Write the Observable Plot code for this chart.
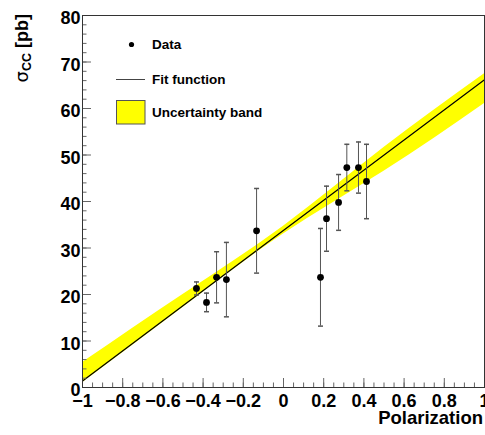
<!DOCTYPE html>
<html>
<head>
<meta charset="utf-8">
<script src="https://cdn.jsdelivr.net/npm/d3@7"></script>
<script src="https://cdn.jsdelivr.net/npm/@observablehq/plot@0.6"></script>
<style>
  html, body { margin: 0; padding: 0; background: #fff; }
  #chart { position: relative; width: 485px; height: 435px; }
</style>
</head>
<body>
<div id="chart"></div>
<script>
// Data points (Polarization, cross section, error)
const dataX   = [-0.433, -0.383, -0.333, -0.284, -0.134, 0.184, 0.214, 0.274, 0.315, 0.373, 0.413];
const dataY   = [21.3, 18.3, 23.7, 23.2, 33.7, 23.7, 36.3, 39.8, 47.3, 47.3, 44.3];
const dataErr = [1.4, 2.0, 5.5, 8.0, 9.1, 10.5, 7.0, 6.0, 5.0, 5.5, 8.0];

// Fit function end points
const fitX = [-1, 1];
const fitY = [1.4, 66.2];

// Uncertainty band
const bandX    = [-1, -0.5, 0, 0.5, 1];
const bandLow  = [1.0, 17.2, 33.0, 46.5, 61.1];
const bandHigh = [5.35, 20.0, 34.7, 51.6, 67.5];

// Ticks
const xMajor = [-1, -0.8, -0.6, -0.4, -0.2, 0, 0.2, 0.4, 0.6, 0.8, 1];
const xLabels = ["\u22121", "\u22120.8", "\u22120.6", "\u22120.4", "\u22120.2", "0", "0.2", "0.4", "0.6", "0.8", "1"];
const xMinor = d3.range(-1, 1.0001, 0.05).map(v => +v.toFixed(2));
const yMajor = [0, 10, 20, 30, 40, 50, 60, 70, 80];
const yMinor = d3.range(0, 81, 2);

const points = dataX.map((x, i) => ({x, y: dataY[i], e: dataErr[i]}));
const fit = fitX.map((x, i) => ({x, y: fitY[i]}));
const band = bandX.map((x, i) => ({x, lo: bandLow[i], hi: bandHigh[i]}));

const W = 485, H = 435;
const mL = 82, mR = 1, mT = 15, mB = 48;
const plotW = W - mL - mR, plotH = H - mT - mB;

const cap = { draw(ctx, size) { const r = 2.5; ctx.moveTo(-r, 0); ctx.lineTo(r, 0); } };

const chart = Plot.plot({
  width: W, height: H,
  marginLeft: mL, marginRight: mR, marginTop: mT, marginBottom: mB,
  style: { fontFamily: "'Liberation Sans', Arial, Helvetica, sans-serif", fontWeight: "bold", fontSize: "18px", background: "white", overflow: "visible" },
  x: { domain: [-1, 1], axis: null },
  y: { domain: [0, 80], axis: null },
  marks: [
    Plot.areaY(band, { x: "x", y1: "lo", y2: "hi", fill: "#ffff00", curve: "natural" }),
    Plot.line(fit, { x: "x", y: "y", stroke: "black", strokeWidth: 1.2 }),
    Plot.ruleX(points, { x: "x", y1: d => d.y - d.e, y2: d => d.y + d.e, stroke: "#555", strokeWidth: 1 }),
    Plot.dot(points, { x: "x", y: d => d.y + d.e, symbol: cap, stroke: "#555", fill: "none", r: 2.5 }),
    Plot.dot(points, { x: "x", y: d => d.y - d.e, symbol: cap, stroke: "#555", fill: "none", r: 2.5 }),
    Plot.dot(points, { x: "x", y: "y", r: 3.4, fill: "black" }),
    // ticks (inward)
    Plot.tickY(yMinor, { y: d => d, insetRight: plotW - 4.5, stroke: "#666" }),
    Plot.tickY(yMajor, { y: d => d, insetRight: plotW - 9, stroke: "#666" }),
    Plot.tickX(xMinor, { x: d => d, insetTop: plotH - 4.5, stroke: "#666" }),
    Plot.tickX(xMajor, { x: d => d, insetTop: plotH - 9, stroke: "#666" }),
    Plot.frame({ stroke: "#333" }),
    Plot.axisY(yMajor, { tickSize: 0, tickPadding: 2, dy: 3, fontSize: 18, fontWeight: "bold", label: null }),
    Plot.axisX(xMajor, { tickSize: 0, tickPadding: 7, fontSize: 18, fontWeight: "bold", label: null,
      tickFormat: d => xLabels[xMajor.indexOf(d)] })
  ]
});

document.getElementById("chart").appendChild(chart);

const svg = d3.select(chart);
const font = "'Liberation Sans', Arial, Helvetica, sans-serif";

// X axis title
svg.append("text")
  .attr("x", 483).attr("y", 424)
  .attr("text-anchor", "end")
  .attr("font-family", font).attr("font-weight", "bold").attr("font-size", 18.5)
  .attr("fill", "black")
  .text("Polarization");

// Y axis title
const yt = svg.append("text")
  .attr("transform", "translate(28,14) rotate(-90)")
  .attr("text-anchor", "end")
  .attr("font-family", font).attr("fill", "black");
yt.append("tspan").attr("font-weight", "normal").attr("font-family", "'DejaVu Sans', sans-serif").attr("font-size", 18).text("\u03C3");
yt.append("tspan").attr("font-weight", "bold").attr("font-size", 12.5).attr("dy", 3).text("CC");
yt.append("tspan").attr("font-weight", "bold").attr("font-size", 18).attr("dy", -3).text(" [pb]");

// Legend
const lg = svg.append("g").attr("font-family", font).attr("font-weight", "bold").attr("font-size", 13.5)
  .attr("fill", "black").attr("text-anchor", "start");
lg.append("circle").attr("cx", 131.5).attr("cy", 44.5).attr("r", 2.6).attr("fill", "black");
lg.append("text").attr("x", 152).attr("y", 49).text("Data");
lg.append("line").attr("x1", 116).attr("x2", 145).attr("y1", 79.5).attr("y2", 79.5).attr("stroke", "#444").attr("stroke-width", 1);
lg.append("text").attr("x", 152).attr("y", 84).text("Fit function");
lg.append("rect").attr("x", 116.5).attr("y", 100.5).attr("width", 28.5).attr("height", 23.5).attr("fill", "#ffff00").attr("stroke", "#555").attr("stroke-width", 1);
lg.append("text").attr("x", 152).attr("y", 117).text("Uncertainty band");
</script>
</body>
</html>
